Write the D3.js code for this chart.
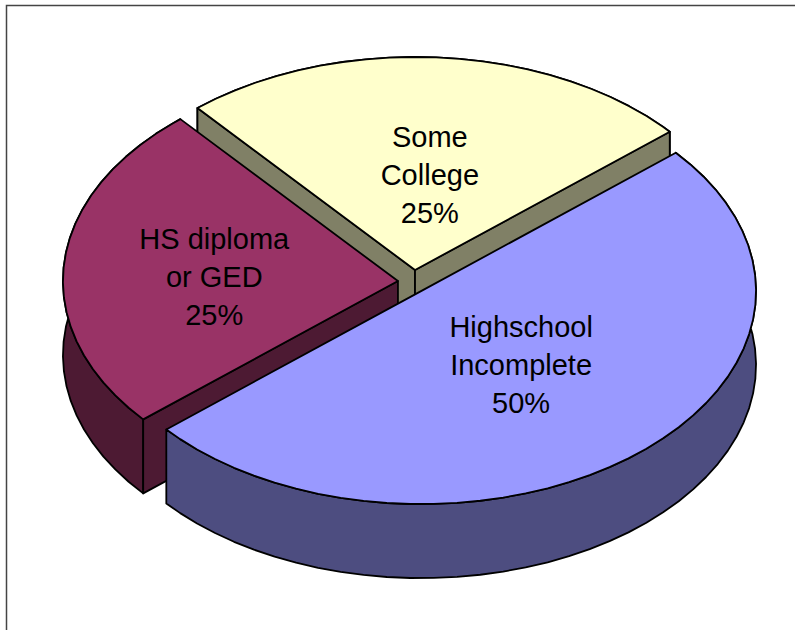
<!DOCTYPE html>
<html>
<head>
<meta charset="utf-8">
<script src="https://cdn.jsdelivr.net/npm/d3@7"></script>
<style>
    html, body { margin: 0; padding: 0; background: #fff; overflow: hidden; }
    .slice-label { font-family: "Liberation Sans", Arial, sans-serif; font-size: 29px; fill: #000; text-anchor: middle; }
</style>
</head>
<body>
<div id="chart"></div>
<script>
var width = 795;
var height = 630;

// DATA
var categories = ['Highschool Incomplete', 'HS diploma or GED', 'Some College'];
var shares = [50, 25, 25];
var labelLines = [['Highschool', 'Incomplete', '50%'], ['HS diploma', 'or GED', '25%'], ['Some', 'College', '25%']];

var COLOR_TOP = ['#9999ff', '#993366', '#ffffcc'];
var COLOR_SIDE = ['#4d4d80', '#4d1a33', '#808066'];

// pie geometry, the tilted disc is just an ellipse
var CX = 411;
var CY = 283;
var RX = 335;
var RY = 213;
var DEPTH = 74;
var FIRST_ANGLE = 49.5 * Math.PI / 180;
var ARC_STEP = 0.07;
// how far each slice is pulled out, in disc units
var EXPLODE_X = [0.03, -0.039, 0.012];
var EXPLODE_Y = [-0.038, 0.009, 0.061];
var LABEL_RADIUS = [0.46, 0.55, 0.45];
var LABEL_SHIFT_X = [0, 0, 3];
var LABEL_SHIFT_Y = [-1, 5, 1];
var LINE_HEIGHT = 38;

var x = d3.scaleLinear().domain([-1, 1]).range([CX - RX, CX + RX]);
var y = d3.scaleLinear().domain([-1, 1]).range([CY + RY, CY - RY]);

var svg = d3.select('#chart')
    .append('svg')
    .attr('width', width)
    .attr('height', height);

// chart frame, runs off the right and bottom of the picture
svg.append('rect')
    .attr('x', 6.5)
    .attr('y', 5.5)
    .attr('width', width + 20)
    .attr('height', height + 20)
    .attr('fill', '#fff')
    .attr('stroke', '#444')
    .attr('stroke-width', 1.5);

var pie = d3.pie()
    .sort(null)
    .startAngle(FIRST_ANGLE)
    .endAngle(FIRST_ANGLE + 2 * Math.PI);

var slices = pie(shares);

var project = function (i, angle, r, drop) {
    var ux = r * Math.sin(angle) + EXPLODE_X[i];
    var uy = r * Math.cos(angle) + EXPLODE_Y[i];
    return [x(ux), y(uy) + (drop || 0)];
};

var arcPoints = function (i, drop) {
    var s = slices[i];
    var angles = d3.range(s.startAngle, s.endAngle, ARC_STEP);
    angles.push(s.endAngle);
    return angles.map(function (a) { return project(i, a, 1, drop); });
};

var line = d3.line();

var drawFace = function (points, fill) {
    svg.append('path')
        .attr('d', line(points) + 'Z')
        .attr('fill', fill)
        .attr('stroke', '#000')
        .attr('stroke-width', 1.8)
        .attr('stroke-linejoin', 'round');
};

// back to front: yellow, then red, then blue
[2, 1, 0].forEach(function (i) {
    var side = COLOR_SIDE[i];
    var apex = project(i, 0, 0);
    var apexLow = project(i, 0, 0, DEPTH);
    var top = arcPoints(i, 0);
    var low = arcPoints(i, DEPTH);
    var face = [apex].concat(top);

    drawFace(top.concat(low.slice().reverse()), side);

    // a cut wall only shows if it hangs outside the top surface
    [[top[0], low[0]], [top[top.length - 1], low[low.length - 1]]].forEach(function (edge) {
        var probe = [
            (apex[0] + edge[0][0]) / 2,
            (apex[1] + edge[0][1]) / 2 + DEPTH / 2
        ];
        if (!d3.polygonContains(face, probe)) {
            drawFace([apex, edge[0], edge[1], apexLow], side);
        }
    });

    drawFace(face, COLOR_TOP[i]);
});

// labels
slices.forEach(function (s, i) {
    var mid = (s.startAngle + s.endAngle) / 2;
    var pos = project(i, mid, LABEL_RADIUS[i]);
    var t = svg.append('text')
        .attr('class', 'slice-label')
        .attr('aria-label', categories[i]);
    labelLines[i].forEach(function (txt, j) {
        t.append('tspan')
            .attr('x', pos[0] + LABEL_SHIFT_X[i])
            .attr('y', pos[1] + LABEL_SHIFT_Y[i] + (j - 1) * LINE_HEIGHT + 10)
            .text(txt);
    });
});
</script>
</body>
</html>
